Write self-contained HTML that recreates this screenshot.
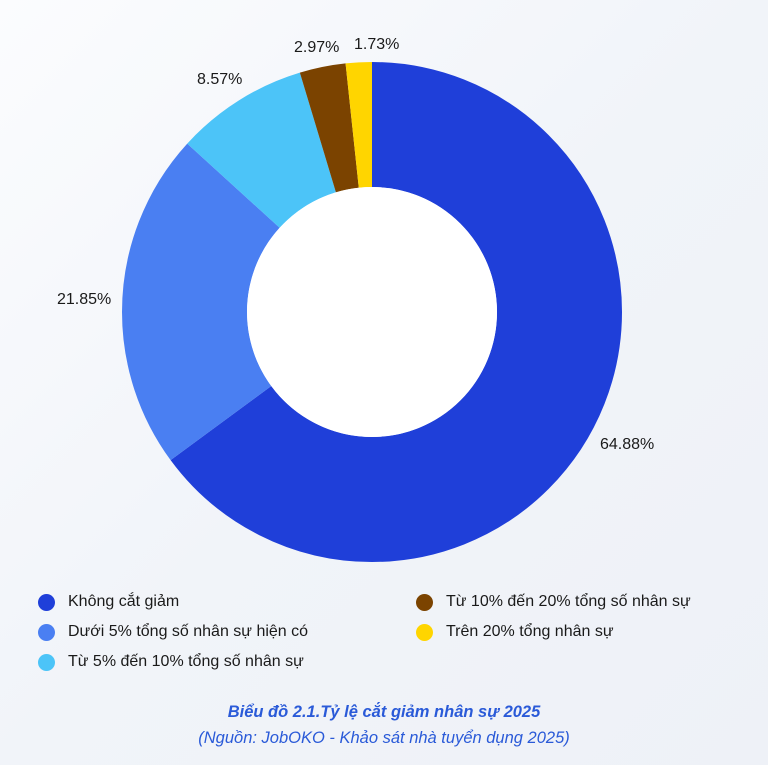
<!DOCTYPE html>
<html><head><meta charset="utf-8"><style>
body{margin:0;width:768px;height:765px;overflow:hidden;background:linear-gradient(135deg,#fbfcfe 0%,#f1f4f9 50%,#eef1f7 100%);font-family:"Liberation Sans",sans-serif;}
.t{position:absolute;font-size:16px;color:#1a1a1a;white-space:nowrap}
.d{position:absolute;width:17px;height:17px;border-radius:50%}
</style></head><body>
<svg width="768" height="765" style="position:absolute;left:0;top:0">
<g transform="rotate(-90 372 312)" fill="none" stroke-width="125">
<circle cx="372" cy="312" r="187.5" stroke="#1f3fd9" stroke-dasharray="764.35 2000" stroke-dashoffset="0"/>
<circle cx="372" cy="312" r="187.5" stroke="#4a7ff2" stroke-dasharray="257.42 2000" stroke-dashoffset="-764.35"/>
<circle cx="372" cy="312" r="187.5" stroke="#4cc4f8" stroke-dasharray="100.96 2000" stroke-dashoffset="-1021.77"/>
<circle cx="372" cy="312" r="187.5" stroke="#7b4300" stroke-dasharray="34.99 2000" stroke-dashoffset="-1122.73"/>
<circle cx="372" cy="312" r="187.5" stroke="#ffd500" stroke-dasharray="20.38 2000" stroke-dashoffset="-1157.72"/>
</g>
<circle cx="372" cy="312" r="125" fill="#fff"/>
</svg>
<div class="t" style="left:600px;top:436px">64.88%</div>
<div class="t" style="left:57px;top:291px">21.85%</div>
<div class="t" style="left:197px;top:71px">8.57%</div>
<div class="t" style="left:294px;top:39px">2.97%</div>
<div class="t" style="left:354px;top:36px">1.73%</div>
<div class="d" style="left:38px;top:594px;background:#1f3fd9"></div>
<div class="t" style="left:68px;top:593px">Không cắt giảm</div>
<div class="d" style="left:38px;top:624px;background:#4a7ff2"></div>
<div class="t" style="left:68px;top:623px">Dưới 5% tổng số nhân sự hiện có</div>
<div class="d" style="left:38px;top:654px;background:#4cc4f8"></div>
<div class="t" style="left:68px;top:653px">Từ 5% đến 10% tổng số nhân sự</div>
<div class="d" style="left:416px;top:594px;background:#7b4300"></div>
<div class="t" style="left:446px;top:593px">Từ 10% đến 20% tổng số nhân sự</div>
<div class="d" style="left:416px;top:624px;background:#ffd500"></div>
<div class="t" style="left:446px;top:623px">Trên 20% tổng nhân sự</div>
<div class="t" style="left:0;width:768px;text-align:center;top:703px;font-size:16.5px;font-weight:bold;font-style:italic;color:#2a5ad8">Biểu đồ 2.1.Tỷ lệ cắt giảm nhân sự 2025</div>
<div class="t" style="left:0;width:768px;text-align:center;top:729px;font-size:16.5px;font-style:italic;color:#2a5ad8">(Nguồn: JobOKO - Khảo sát nhà tuyển dụng 2025)</div>
</body></html>
